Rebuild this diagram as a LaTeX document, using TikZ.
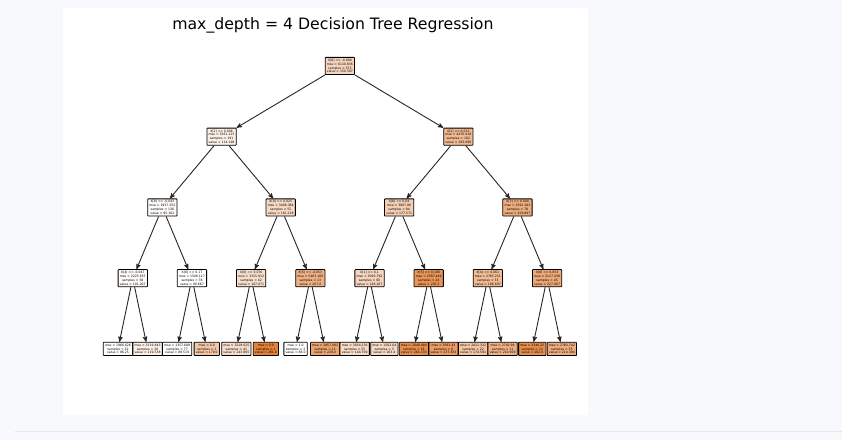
\documentclass[tikz,border=0pt]{standalone}
\usepackage{fontspec}
\setmainfont{DejaVu Sans}
\usepackage{tikz}
\usetikzlibrary{arrows}
\usetikzlibrary{positioning}
\definecolor{treeorange}{RGB}{229,129,57}
\definecolor{pagebg}{RGB}{248,249,253}
\definecolor{rulegray}{RGB}{228,230,236}

\begin{document}
\begin{tikzpicture}[x=1pt,y=-1pt,->,>=stealth',node distance=70.75pt,
  split node/.style={rectangle,draw=black,line width=0.8pt,rounded corners=0.6pt,
    align=center,inner sep=1.7pt,font=\fontsize{3.1}{3.8}\selectfont},
  leaf node/.style={split node}]

  % page and figure area
  \fill[pagebg,-] (0,0) rectangle (842,440);
  \fill[white,-] (63,8) rectangle (588,415);
  \draw[rulegray,-] (15,431.5) -- (842,431.5);

  \node[anchor=base] (title) at (333,30) {\fontsize{15.7}{18}\selectfont max\_depth = 4 Decision Tree Regression};

  % depth 0 and 1
  \node[split node,fill=treeorange!33!white] (1) at (340,66) {X[8] <= -0.004\\mse = 6110.836\\samples = 353\\value = 150.397};
  \node[split node,fill=treeorange!12!white] (2) [below of=1,xshift=-118.4pt] {X[2] <= 0.006\\mse = 3261.125\\samples = 191\\value = 114.199};
  \node[split node,fill=treeorange!55!white] (3) [below of=1,xshift=118.4pt] {X[2] <= 0.013\\mse = 4476.918\\samples = 162\\value = 193.099};

  % depth 2
  \node[split node,fill=treeorange!3!white] (4) [below of=2,xshift=-59.2pt] {X[8] <= -0.043\\mse = 1937.352\\samples = 136\\value = 95.162};
  \node[split node,fill=treeorange!30!white] (5) [below of=2,xshift=59.2pt] {X[9] <= 0.025\\mse = 3496.384\\samples = 55\\value = 161.218};
  \node[split node,fill=treeorange!38!white] (6) [below of=3,xshift=-59.2pt] {X[8] <= 0.04\\mse = 3907.86\\samples = 84\\value = 177.571};
  \node[split node,fill=treeorange!65!white] (7) [below of=3,xshift=59.2pt] {X[3] <= 0.004\\mse = 3591.283\\samples = 78\\value = 209.897};

  % depth 3
  \node[split node,fill=treeorange!3!white] (8) [below of=4,xshift=-29.6pt] {X[4] <= -0.047\\mse = 2225.657\\samples = 58\\value = 101.207};
  \node[split node,fill=white] (9) [below of=4,xshift=29.6pt] {X[6] <= 0.17\\mse = 1506.117\\samples = 78\\value = 90.667};
  \node[split node,fill=treeorange!25!white] (10) [below of=5,xshift=-29.6pt] {X[0] <= 0.076\\mse = 3315.912\\samples = 42\\value = 147.071};
  \node[split node,fill=treeorange!62!white] (11) [below of=5,xshift=29.6pt] {X[6] <= -0.053\\mse = 5463.166\\samples = 13\\value = 207.0};
  \node[split node,fill=treeorange!33!white] (12) [below of=6,xshift=-29.6pt] {X[1] <= 0.1\\mse = 3093.762\\samples = 60\\value = 146.267};
  \node[split node,fill=treeorange!85!white] (13) [below of=6,xshift=29.6pt] {X[5] <= 0.106\\mse = 2587.449\\samples = 24\\value = 255.5};
  \node[split node,fill=treeorange!53!white] (14) [below of=7,xshift=-29.6pt] {X[4] <= 0.061\\mse = 2765.251\\samples = 33\\value = 186.697};
  \node[split node,fill=treeorange!68!white] (15) [below of=7,xshift=29.6pt] {X[8] <= 0.053\\mse = 3117.438\\samples = 45\\value = 227.067};

  % leaves
  \node[leaf node,fill=white] (16) [below of=8,xshift=-14.8pt] {mse = 1966.626\\samples = 32\\value = 86.25};
  \node[leaf node,fill=treeorange!12!white] (17) [below of=8,xshift=14.8pt] {mse = 3119.843\\samples = 26\\value = 119.538};
  \node[leaf node,fill=white] (18) [below of=9,xshift=-14.8pt] {mse = 1357.688\\samples = 77\\value = 89.519};
  \node[leaf node,fill=treeorange!45!white] (19) [below of=9,xshift=14.8pt] {mse = 0.0\\samples = 1\\value = 179.0};
  \node[leaf node,fill=treeorange!25!white] (20) [below of=10,xshift=-14.8pt] {mse = 3228.625\\samples = 41\\value = 143.805};
  \node[leaf node,fill=treeorange] (21) [below of=10,xshift=14.8pt] {mse = 0.0\\samples = 1\\value = 281.0};
  \node[leaf node,fill=white] (22) [below of=11,xshift=-14.8pt] {mse = 1.0\\samples = 2\\value = 86.0};
  \node[leaf node,fill=treeorange!73!white] (23) [below of=11,xshift=14.8pt] {mse = 2857.091\\samples = 11\\value = 229.0};
  \node[leaf node,fill=treeorange!28!white] (24) [below of=12,xshift=-14.8pt] {mse = 3054.236\\samples = 55\\value = 144.709};
  \node[leaf node,fill=treeorange!30!white] (25) [below of=12,xshift=14.8pt] {mse = 1562.64\\samples = 5\\value = 163.4};
  \node[leaf node,fill=treeorange!90!white] (26) [below of=13,xshift=-14.8pt] {mse = 2049.484\\samples = 16\\value = 264.333};
  \node[leaf node,fill=treeorange!78!white] (27) [below of=13,xshift=14.8pt] {mse = 3061.43\\samples = 8\\value = 237.833};
  \node[leaf node,fill=treeorange!45!white] (28) [below of=14,xshift=-14.8pt] {mse = 2411.332\\samples = 22\\value = 174.591};
  \node[leaf node,fill=treeorange!62!white] (29) [below of=14,xshift=14.8pt] {mse = 2742.99\\samples = 11\\value = 210.909};
  \node[leaf node,fill=treeorange!90!white] (30) [below of=15,xshift=-14.8pt] {mse = 3346.25\\samples = 12\\value = 262.0};
  \node[leaf node,fill=treeorange!65!white] (31) [below of=15,xshift=14.8pt] {mse = 2783.742\\samples = 33\\value = 214.394};

  \path[line width=0.9pt,draw=black!85]
    (1) edge (2) edge (3)
    (2) edge (4) edge (5)
    (3) edge (6) edge (7)
    (4) edge (8) edge (9)
    (5) edge (10) edge (11)
    (6) edge (12) edge (13)
    (7) edge (14) edge (15)
    (8) edge (16) edge (17)
    (9) edge (18) edge (19)
    (10) edge (20) edge (21)
    (11) edge (22) edge (23)
    (12) edge (24) edge (25)
    (13) edge (26) edge (27)
    (14) edge (28) edge (29)
    (15) edge (30) edge (31);
\end{tikzpicture}
\end{document}
